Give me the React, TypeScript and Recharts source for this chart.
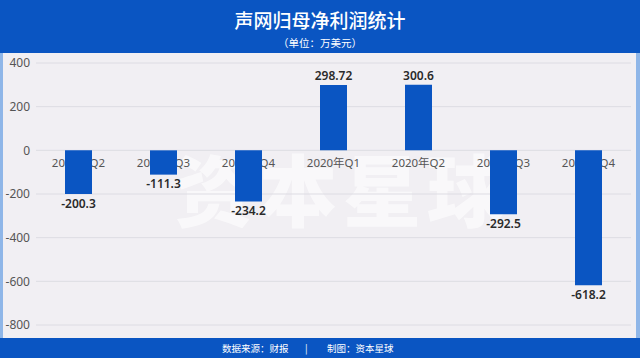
import { BarChart, Bar, YAxis, XAxis, CartesianGrid, LabelList } from "recharts";

const categories = ["2019年Q2", "2019年Q3", "2019年Q4", "2020年Q1", "2020年Q2", "2020年Q3", "2020年Q4"];
const netProfit = [-200.3, -111.3, -234.2, 298.72, 300.6, -292.5, -618.2];
const yTicks = [-800, -600, -400, -200, 0, 200, 400];

const data = categories.map((name, i) => ({ name, base: 0, value: netProfit[i] }));

const BLUE = "#0a55c2";
const FONT = '"Noto Sans", "Noto Sans CJK SC", sans-serif';

// zero-height bar used only to place the category name under the zero line
function CategoryShape(props: any) {
  const { x, y, width, payload } = props;
  return (
    <text
      x={x + width / 2}
      y={y + 17}
      textAnchor="middle"
      fontSize={11.5}
      fill="#555"
      fontFamily={FONT}
    >
      {payload.name}
    </text>
  );
}

export default function App() {
  return (
    <div
      style={{
        position: "absolute",
        left: 0,
        top: 0,
        width: 640,
        height: 358,
        background: BLUE,
        fontFamily: FONT,
        overflow: "hidden",
      }}
    >
      <div style={{ position: "absolute", top: 8, width: 640, textAlign: "center", color: "#fff", fontSize: 19, lineHeight: "26px", fontWeight: 500 }}>
        声网归母净利润统计
      </div>
      <div style={{ position: "absolute", top: 36, width: 640, textAlign: "center", color: "#fff", fontSize: 10.5, lineHeight: "14px" }}>
        （单位：万美元）
      </div>
      <div
        style={{
          position: "absolute",
          top: 53,
          left: 0,
          width: 640,
          height: 285,
          background: "#f1eff3",
          boxSizing: "border-box",
          borderLeft: "3px solid #8fb6e8",
          borderRight: "4px solid #8fb6e8",
        }}
      />
      <div
        style={{
          position: "absolute",
          top: 142,
          left: 168,
          width: 350,
          textAlign: "center",
          color: "#ffffff",
          opacity: 0.6,
          fontSize: 78,
          fontWeight: 900,
          letterSpacing: 6,
          lineHeight: "90px",
          fontFamily: '"Noto Sans CJK SC", sans-serif',
        }}
      >
        资本星球
      </div>
      <div style={{ position: "absolute", top: 53, left: 0 }}>
        <BarChart width={640} height={285} data={data} margin={{ top: 10, right: 9, bottom: 13, left: 0 }}>
          <CartesianGrid horizontal vertical={false} stroke="#dddce3" />
          <XAxis dataKey="name" hide />
          <YAxis
            domain={[-800, 400]}
            ticks={yTicks}
            width={36}
            axisLine={false}
            tickLine={false}
            tickSize={6}
            tickMargin={0}
            tick={{ fill: "#555", fontSize: 12, fontFamily: FONT }}
            interval={0}
          />
          <Bar dataKey="base" stackId="a" barSize={27} shape={CategoryShape} isAnimationActive={false} />
          <Bar dataKey="value" stackId="a" barSize={27} fill={BLUE} isAnimationActive={false}>
            <LabelList
              dataKey="value"
              position="top"
              offset={5}
              fill="#2a2a2a"
              fontSize={12}
              fontWeight={600}
              fontFamily={FONT}
            />
          </Bar>
        </BarChart>
      </div>
      <div
        style={{
          position: "absolute",
          top: 341,
          left: 0,
          width: 640,
          color: "#fff",
          fontSize: 9.5,
          lineHeight: "14px",
          fontFamily: '"Noto Sans CJK SC", sans-serif',
        }}
      >
        <span style={{ position: "absolute", left: 222 }}>数据来源：财报</span>
        <span style={{ position: "absolute", left: 305 }}>|</span>
        <span style={{ position: "absolute", left: 327 }}>制图：资本星球</span>
      </div>
    </div>
  );
}
